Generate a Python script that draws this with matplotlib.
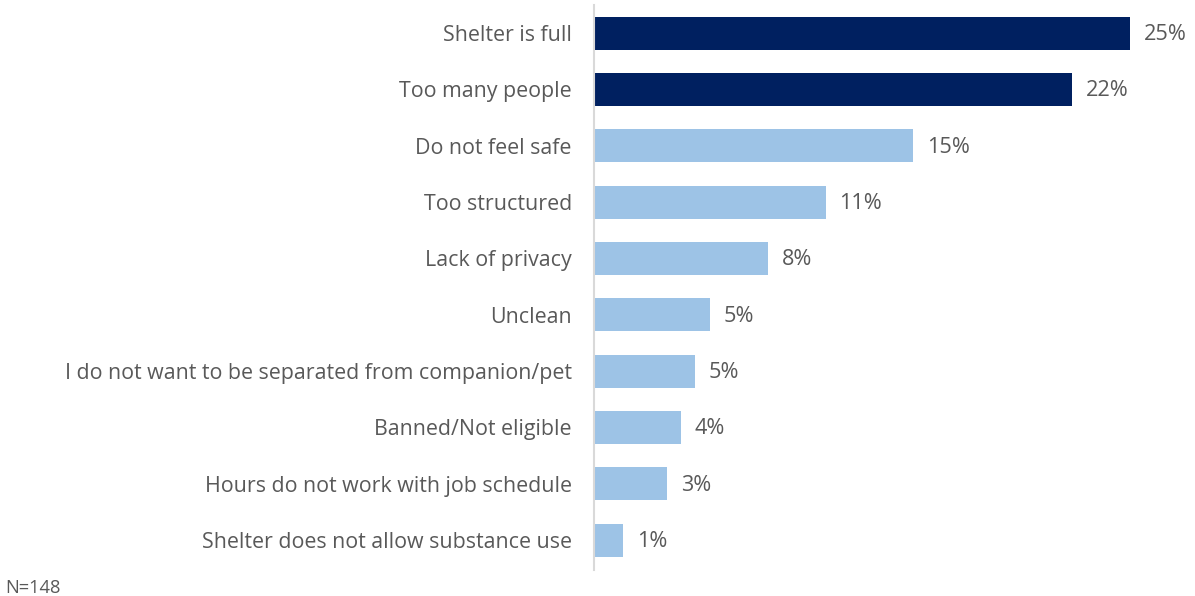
import matplotlib
matplotlib.use("Agg")
import matplotlib.pyplot as plt

categories = [
    "Shelter is full",
    "Too many people",
    "Do not feel safe",
    "Too structured",
    "Lack of privacy",
    "Unclean",
    "I do not want to be separated from companion/pet",
    "Banned/Not eligible",
    "Hours do not work with job schedule",
    "Shelter does not allow substance use",
]
values = [25.0, 22.3, 14.9, 10.8, 8.1, 5.4, 4.7, 4.05, 3.4, 1.35]
labels = ["25%", "22%", "15%", "11%", "8%", "5%", "5%", "4%", "3%", "1%"]
highlight = [True, True, False, False, False, False, False, False, False, False]

DARK = "#002060"
LIGHT = "#9DC3E6"
TEXT = "#595959"

plt.rcParams["font.family"] = ["Open Sans", "DejaVu Sans"]

W, H = 1195, 596
fig = plt.figure(figsize=(W / 100, H / 100), dpi=100)
ax = fig.add_axes([594 / W, 1 - 570 / H, 1 - 594 / W, (570 - 5) / H])

pos = list(range(len(categories)))
colors = [DARK if h else LIGHT for h in highlight]
ax.barh(pos, values, height=0.59, color=colors)

for p, v, lab in zip(pos, values, labels):
    ax.annotate(lab, (v, p), xytext=(10, -1), textcoords="offset points",
                va="center", ha="left", fontsize=15.6, color=TEXT)

ax.set_yticks(pos)
ax.set_yticklabels(categories, fontsize=15.4, color=TEXT)
ax.tick_params(axis="y", length=0, pad=16)
ax.set_xticks([])
ax.set_xlim(0, (W - 594) / 21.44)
ax.set_ylim(9.53, -0.5)

for s in ("top", "right", "bottom"):
    ax.spines[s].set_visible(False)
ax.spines["left"].set_color("#D9D9D9")
ax.spines["left"].set_linewidth(1.5)

fig.text(5 / W, 1 - 588 / H, "N=148", fontsize=13.2, color=TEXT,
         va="center", ha="left")

fig.savefig("out.png", dpi=100)
